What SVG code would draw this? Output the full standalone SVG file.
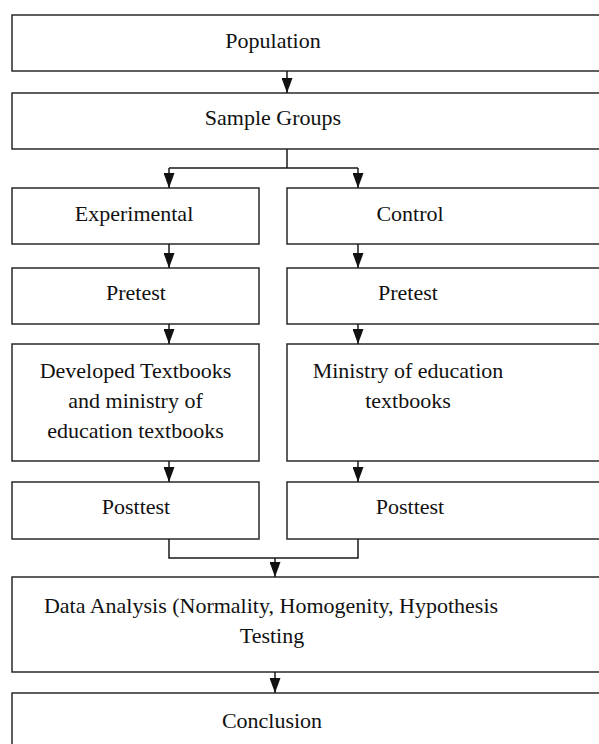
<svg xmlns="http://www.w3.org/2000/svg" width="599" height="744" viewBox="0 0 599 744">
<style>
.box{fill:#fff;stroke:#2a2a2a;stroke-width:1.5}
.t{font-family:"Liberation Serif","Times New Roman",serif;font-size:22px;fill:#111;text-anchor:middle}
.c{fill:none;stroke:#1a1a1a;stroke-width:1.5}
</style>
<defs>
<marker id="ah" viewBox="0 0 15 11" refX="15" refY="5.5" markerWidth="15" markerHeight="11" markerUnits="userSpaceOnUse" orient="auto">
<path d="M0,0 L15,5.5 L0,11 Z" fill="#111"/>
</marker>
</defs>
<rect width="599" height="744" fill="#fff"/>
<g id="population"><rect class="box" x="12" y="15" width="600" height="56"/><text class="t" x="273" y="48">Population</text></g>
<g id="sample"><rect class="box" x="12" y="93" width="600" height="56"/><text class="t" x="273" y="125">Sample Groups</text></g>
<g id="experimental"><rect class="box" x="12" y="188" width="247" height="56"/><text class="t" x="134" y="221">Experimental</text></g>
<g id="control"><rect class="box" x="287" y="188" width="325" height="56"/><text class="t" x="410" y="221">Control</text></g>
<g id="pretest-exp"><rect class="box" x="12" y="268" width="247" height="56"/><text class="t" x="136" y="300">Pretest</text></g>
<g id="pretest-ctl"><rect class="box" x="287" y="268" width="325" height="56"/><text class="t" x="408" y="300">Pretest</text></g>
<g id="developed"><rect class="box" x="12" y="344" width="247" height="117"/><text class="t" x="135.5" y="378">Developed Textbooks</text><text class="t" x="135.5" y="408">and ministry of</text><text class="t" x="135.5" y="438">education textbooks</text></g>
<g id="ministry"><rect class="box" x="287" y="344" width="325" height="117"/><text class="t" x="408" y="378">Ministry of education</text><text class="t" x="408" y="408">textbooks</text></g>
<g id="posttest-exp"><rect class="box" x="12" y="482" width="247" height="57"/><text class="t" x="136" y="514">Posttest</text></g>
<g id="posttest-ctl"><rect class="box" x="287" y="482" width="325" height="57"/><text class="t" x="410" y="514">Posttest</text></g>
<g id="analysis"><rect class="box" x="12" y="577" width="600" height="95"/><text class="t" x="271" y="613">Data Analysis (Normality, Homogenity, Hypothesis</text><text class="t" x="272" y="643">Testing</text></g>
<g id="conclusion"><rect class="box" x="12" y="693" width="600" height="60"/><text class="t" x="272" y="728">Conclusion</text></g>
<g id="connectors">
<path class="c" d="M287,71 V93" marker-end="url(#ah)"/>
<path class="c" d="M287,149 V168 M169,168 H358"/>
<path class="c" d="M169,168 V188" marker-end="url(#ah)"/>
<path class="c" d="M358,168 V188" marker-end="url(#ah)"/>
<path class="c" d="M169,244 V268" marker-end="url(#ah)"/>
<path class="c" d="M358,244 V268" marker-end="url(#ah)"/>
<path class="c" d="M169,324 V344" marker-end="url(#ah)"/>
<path class="c" d="M358,324 V344" marker-end="url(#ah)"/>
<path class="c" d="M169,461 V482" marker-end="url(#ah)"/>
<path class="c" d="M358,461 V482" marker-end="url(#ah)"/>
<path class="c" d="M169,539 V558 H358 V539"/>
<path class="c" d="M275,558 V577" marker-end="url(#ah)"/>
<path class="c" d="M275,672 V693" marker-end="url(#ah)"/>
</g>
</svg>
